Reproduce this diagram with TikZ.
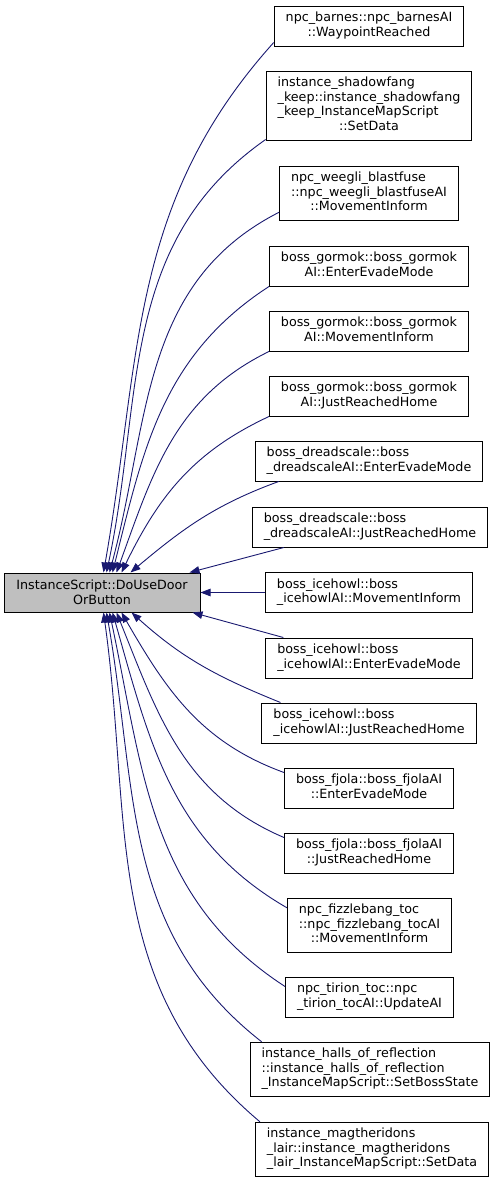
\documentclass[tikz,border=0pt]{standalone}
\usepackage{fontspec}
\setmainfont{DejaVu Sans}
\usetikzlibrary{arrows.meta, positioning}
\definecolor{edgeblue}{RGB}{25,25,112}
\definecolor{mainfill}{RGB}{191,191,191}
% all lines left, last line centred
\newcommand{\calltext}[2]{\begin{tabular}{@{}l@{}}#1\\\multicolumn{1}{@{}c@{}}{#2}\end{tabular}}
\tikzset{
  callerbox/.style={
    draw=black,
    line width=1pt,
    fill=white,
    inner xsep=11.5pt,
    inner ysep=5.5pt
  },
  mainbox/.style={
    draw=black,
    line width=1pt,
    fill=mainfill,
    align=center,
    inner sep=0pt,
    minimum width=196pt,
    minimum height=39pt
  },
  callarrow/.style={-{Triangle[length=10pt,width=7.5pt]}, draw=edgeblue, line width=0.9pt}
}
\begin{document}
\begin{tikzpicture}[
    x=1pt, y=1pt,
    font=\fontsize{12.7}{14.5}\selectfont
]
\useasboundingbox (0,0) rectangle (496,-1183);

\node[mainbox] (doorbtn) at (102,-592.5) {InstanceScript::DoUseDoor\\OrButton};

% callers, top to bottom
\node[callerbox] (barnes) at (369,-26)
{\calltext{npc\_barnes::npc\_barnesAI}{::WaypointReached}};
\node[callerbox] (shadowfang) at (369,-105.5)
{\calltext{instance\_shadowfang\\\_keep::instance\_shadowfang\\\_keep\_InstanceMapScript}{::SetData}};
\node[callerbox] (weegli) at (369,-193.5)
{\calltext{npc\_weegli\_blastfuse\\::npc\_weegli\_blastfuseAI}{::MovementInform}};
\node[callerbox] (gormokevade) at (369,-266)
{\calltext{boss\_gormok::boss\_gormok}{AI::EnterEvadeMode}};
\node[callerbox] (gormokmove) at (369,-331)
{\calltext{boss\_gormok::boss\_gormok}{AI::MovementInform}};
\node[callerbox] (gormokhome) at (369,-396)
{\calltext{boss\_gormok::boss\_gormok}{AI::JustReachedHome}};
\node[callerbox] (dreadevade) at (369,-461)
{\calltext{boss\_dreadscale::boss}{\_dreadscaleAI::EnterEvadeMode}};
\node[callerbox] (dreadhome) at (370,-527)
{\calltext{boss\_dreadscale::boss}{\_dreadscaleAI::JustReachedHome}};
\node[callerbox] (icehowlmove) at (369,-592.5)
{\calltext{boss\_icehowl::boss}{\_icehowlAI::MovementInform}};
\node[callerbox] (icehowlevade) at (369,-658)
{\calltext{boss\_icehowl::boss}{\_icehowlAI::EnterEvadeMode}};
\node[callerbox] (icehowlhome) at (369,-723)
{\calltext{boss\_icehowl::boss}{\_icehowlAI::JustReachedHome}};
\node[callerbox] (fjolaevade) at (369,-788)
{\calltext{boss\_fjola::boss\_fjolaAI}{::EnterEvadeMode}};
\node[callerbox] (fjolahome) at (369,-853)
{\calltext{boss\_fjola::boss\_fjolaAI}{::JustReachedHome}};
\node[callerbox] (fizzlebang) at (369.5,-925.5)
{\calltext{npc\_fizzlebang\_toc\\::npc\_fizzlebang\_tocAI}{::MovementInform}};
\node[callerbox] (tirion) at (369.5,-997)
{\calltext{npc\_tirion\_toc::npc}{\_tirion\_tocAI::UpdateAI}};
\node[callerbox] (halls) at (370,-1069.5)
{\calltext{instance\_halls\_of\_reflection\\::instance\_halls\_of\_reflection}{\_InstanceMapScript::SetBossState}};
\node[callerbox] (magtheridon) at (372,-1149.5)
{\calltext{instance\_magtheridons\\\_lair::instance\_magtheridons}{\_lair\_InstanceMapScript::SetData}};

% calls into the top of the main box
\draw[callarrow] ([yshift=4pt]barnes.south west) to[out=228, in=80] ([xshift=100pt]doorbtn.north west);
\draw[callarrow] ([yshift=1pt]shadowfang.south west) to[out=215, in=78] ([xshift=103pt]doorbtn.north west);
\draw[callarrow] ([yshift=9pt]weegli.south west) to[out=207, in=75] ([xshift=106pt]doorbtn.north west);
\draw[callarrow] (gormokevade.south west) to[out=213, in=76] ([xshift=109pt]doorbtn.north west);
\draw[callarrow] (gormokmove.south west) to[out=206, in=70] ([xshift=113pt]doorbtn.north west);
\draw[callarrow] (gormokhome.south west) to[out=205, in=64] ([xshift=118pt]doorbtn.north west);
\draw[callarrow] ([xshift=24pt]dreadevade.south west) to[out=200, in=40] ([xshift=127pt]doorbtn.north west);
\draw[callarrow] ([xshift=32pt]dreadhome.south west) -- ([xshift=186pt]doorbtn.north west);
% straight across
\draw[callarrow] (icehowlmove.west) -- (doorbtn.east);
% calls into the bottom of the main box
\draw[callarrow] ([xshift=18pt]icehowlevade.north west) -- ([xshift=189pt]doorbtn.south west);
\draw[callarrow] ([xshift=19pt]icehowlhome.north west) to[out=158, in=-42] ([xshift=128pt]doorbtn.south west);
\draw[callarrow] ([yshift=-5pt]fjolaevade.north west) to[out=160, in=-60] ([xshift=118pt]doorbtn.south west);
\draw[callarrow] ([yshift=-5pt]fjolahome.north west) to[out=157, in=-68] ([xshift=113pt]doorbtn.south west);
\draw[callarrow] ([yshift=-10pt]fizzlebang.north west) to[out=150, in=-74] ([xshift=109pt]doorbtn.south west);
\draw[callarrow] ([yshift=-10pt]tirion.north west) to[out=147, in=-78] ([xshift=106pt]doorbtn.south west);
\draw[callarrow] ([xshift=12pt]halls.north west) to[out=142, in=-80] ([xshift=103pt]doorbtn.south west);
\draw[callarrow] ([xshift=5pt]magtheridon.north west) to[out=140, in=-82] ([xshift=100pt]doorbtn.south west);
\end{tikzpicture}
\end{document}
